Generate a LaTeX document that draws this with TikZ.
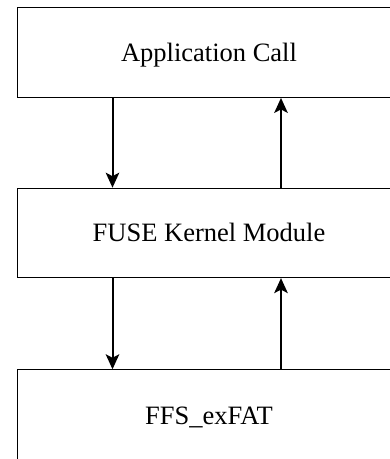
\documentclass[tikz,border=0pt]{standalone}
\usepackage{fontspec}
\setmainfont{Liberation Serif}
\usetikzlibrary{arrows.meta}
\begin{document}
\begin{tikzpicture}[x=1pt,y=1pt,
  layerbox/.style={draw=black, line width=1pt, minimum width=383pt, minimum height=89.4pt,
    inner sep=0pt, text height=17.5pt, text depth=0pt,
    font=\fontsize{26.5}{30}\selectfont, anchor=north west},
  arr/.style={line width=2pt, -{Stealth[length=15pt,width=13.5pt,inset=3.5pt]}}]
\useasboundingbox (0,0) rectangle (390,459);
\clip (0,0) rectangle (390,459);
\fill[white] (0,0) rectangle (390,459);
\node[layerbox] (app) at (17,451.5) {Application Call};
\node[layerbox] (fuse) at (17,271.3) {FUSE Kernel Module};
\node[layerbox, minimum height=92pt] (ffs) at (17,89.7) {FFS\_exFAT};
\coordinate (dx) at (112.5,0);
\coordinate (ux) at (281,0);
\draw[arr] (app.south -| dx) -- (fuse.north -| dx);
\draw[arr] (fuse.north -| ux) -- (app.south -| ux);
\draw[arr] (fuse.south -| dx) -- (ffs.north -| dx);
\draw[arr] (ffs.north -| ux) -- (fuse.south -| ux);
\end{tikzpicture}
\end{document}
